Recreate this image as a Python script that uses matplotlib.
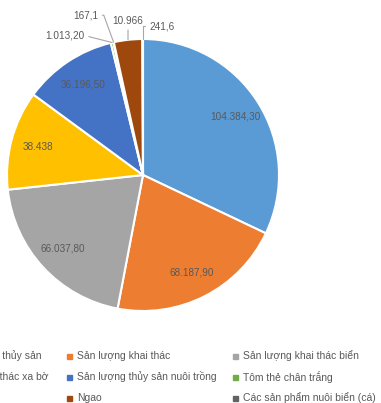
import numpy as np
import matplotlib
matplotlib.use("Agg")
import matplotlib.pyplot as plt

# san luong thuy san (tan)
labels = [
    "Tổng sản lượng thủy sản",
    "Sản lượng khai thác",
    "Sản lượng khai thác biển",
    "Sản lượng khai thác xa bờ",
    "Sản lượng thủy sản nuôi trồng",
    "Tôm thẻ chân trắng",
    "Tôm sú",
    "Ngao",
    "Các sản phẩm nuôi biển (cá)",
]
values = [104384.30, 68187.90, 66037.80, 38438.0, 36196.50, 1013.20, 167.1, 10966.0, 241.6]
value_text = ["104.384,30", "68.187,90", "66.037,80", "38.438", "36.196,50",
              "1.013,20", "167,1", "10.966", "241,6"]
colors = ["#5B9BD5", "#ED7D31", "#A5A5A5", "#FFC000", "#4472C4",
          "#70AD47", "#264478", "#9E480E", "#636363"]

W, H = 381, 403
fig = plt.figure(figsize=(W / 100, H / 100), dpi=100)
fig.patch.set_facecolor("white")

cx, cy, r = 143, 175, 136
ax = fig.add_axes([(cx - r) / W, (H - cy - r) / H, 2 * r / W, 2 * r / H])
wedges, _ = ax.pie(values, colors=colors, startangle=90, counterclock=False,
                   wedgeprops=dict(edgecolor="white", linewidth=1.5))
ax.set_xlim(-1, 1)
ax.set_ylim(-1, 1)
ax.set_aspect("equal")
ax.axis("off")

lab_col = "#595959"
# tiny slices get an outside label: offset in px, leader start on the text box, connector
outside = {
    5: ((-47, 7), (1, 0.5), "arc3"),
    6: ((-28, 27), (1, 0.5), "angle,angleA=0,angleB=110,rad=0"),
    7: ((0, 19), (0.5, 0), "arc3"),
    8: ((19, 13), (0, 0.5), "angle,angleA=180,angleB=90,rad=0"),
}
for i, w in enumerate(wedges):
    mid = np.deg2rad((w.theta1 + w.theta2) / 2)
    if i in outside:
        off, rel, conn = outside[i]
        ax.annotate(value_text[i], xy=(np.cos(mid), np.sin(mid)), xytext=off,
                    textcoords="offset pixels", ha="center", va="center",
                    fontsize=7.2, color=lab_col, family="Liberation Sans",
                    arrowprops=dict(arrowstyle="-", color="#A6A6A6", lw=0.8,
                                    shrinkA=1, shrinkB=0, relpos=rel,
                                    connectionstyle=conn),
                    annotation_clip=False)
    else:
        d = 0.8
        ax.text(d * np.cos(mid), d * np.sin(mid), value_text[i], ha="center",
                va="center", fontsize=7.2, color=lab_col, family="Liberation Sans")

# legend grid, 3 columns; the first column runs off the left edge
col_x = [-82, 69, 235]
row_y = [356, 377, 398]
for i, lab in enumerate(labels):
    row, col = divmod(i, 3)
    x, y = col_x[col], row_y[row]
    fig.patches.append(plt.Rectangle(((x - 2.5) / W, (H - y - 2.5) / H), 5 / W, 5 / H,
                                     transform=fig.transFigure, color=colors[i]))
    fig.text((x + 8) / W, (H - y) / H, lab, ha="left", va="center",
             fontsize=7.5, color=lab_col, family="Liberation Sans")

fig.savefig("out.png", dpi=100)
